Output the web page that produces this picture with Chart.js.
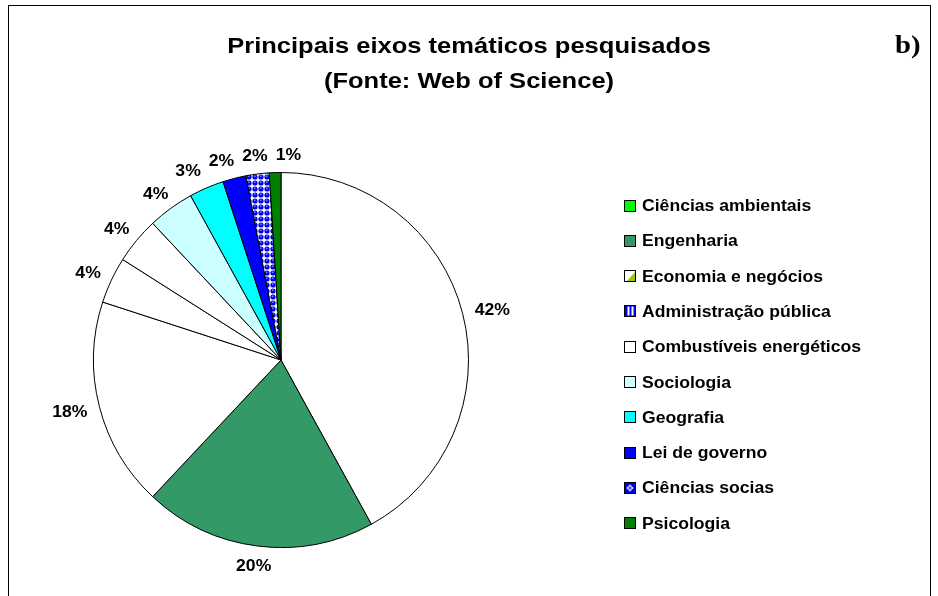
<!DOCTYPE html>
<html>
<head>
<meta charset="utf-8">
<script src="https://cdn.jsdelivr.net/npm/chart.js@4.4.0/dist/chart.umd.min.js"></script>
<style>
  html, body { margin: 0; padding: 0; background: #fff; }
  #wrap { width: 938px; height: 596px; }
</style>
</head>
<body>
<div id="wrap"><canvas id="temasChart" width="938" height="596"></canvas></div>
<script>
const categories = [
  "Ciências ambientais", "Engenharia", "Economia e negócios", "Administração pública",
  "Combustíveis energéticos", "Sociologia", "Geografia", "Lei de governo",
  "Ciências socias", "Psicologia"
];
const shares = [42, 20, 18, 4, 4, 4, 3, 2, 2, 1];
const titleLines = ["Principais eixos temáticos pesquisados", "(Fonte: Web of Science)"];
const panelTag = "b)";

// small canvas patterns, like the excel fills
function makePattern(size, paint) {
  const c = document.createElement("canvas");
  c.width = size; c.height = size;
  paint(c.getContext("2d"), size);
  return document.getElementById("temasChart").getContext("2d").createPattern(c, "repeat");
}
const bubbles = makePattern(6, (g, s) => {
  g.fillStyle = "#fff"; g.fillRect(0, 0, s, s);
  g.fillStyle = "#0000ff";
  g.beginPath(); g.arc(3, 3, 2.6, 0, Math.PI * 2); g.fill();
  g.fillStyle = "#8080ff"; g.fillRect(2, 1.5, 1.5, 1.5);
});

const sliceColors = ["#ffffff", "#339966", "#ffffff", "#ffffff", "#ffffff",
  "#ccffff", "#00ffff", "#0000ff", bubbles, "#008000"];

// legend swatches: plain colour or a little painter
const legendSwatch = [
  "#00ff00", "#339966",
  (ctx, x, y, s) => {
    ctx.fillStyle = "#fff"; ctx.fillRect(x, y, s, s);
    ctx.fillStyle = "#99cc00";
    ctx.beginPath(); ctx.moveTo(x + 2, y + s); ctx.lineTo(x + s, y + 1); ctx.lineTo(x + s, y + s); ctx.fill();
  },
  (ctx, x, y, s) => {
    ctx.fillStyle = "#0000ff"; ctx.fillRect(x, y, s, s);
    ctx.fillStyle = "#fff"; ctx.fillRect(x + 3, y + 1, 2, s - 2); ctx.fillRect(x + 7, y + 1, 2, s - 2);
  },
  "#ffffff", "#ccffff", "#00ffff", "#0000ff",
  (ctx, x, y, s) => {
    ctx.fillStyle = "#0000ff"; ctx.fillRect(x, y, s, s);
    ctx.fillStyle = "#fff";
    ctx.beginPath(); ctx.moveTo(x + s / 2, y + 2); ctx.lineTo(x + s - 2, y + s / 2);
    ctx.lineTo(x + s / 2, y + s - 2); ctx.lineTo(x + 2, y + s / 2); ctx.fill();
    ctx.fillStyle = "#4040ff"; ctx.fillRect(x + s / 2 - 1.5, y + s / 2 - 1.5, 3, 3);
  },
  "#008000"
];

const FONT = "'Liberation Sans', Arial, sans-serif";
const LABEL_FONT = "bold 16px " + FONT;
const STRETCH = 1.1;

function wideText(ctx, text, x, y, font, align, stretch) {
  ctx.save();
  ctx.font = font;
  ctx.translate(x, y);
  ctx.scale(stretch, 1);
  ctx.textAlign = align;
  ctx.textBaseline = "alphabetic";
  ctx.fillStyle = "#000";
  ctx.fillText(text, 0, 0);
  ctx.restore();
}

const excelDecor = {
  id: "excelDecor",
  beforeDraw(chart) {
    const ctx = chart.ctx;
    ctx.save();
    ctx.fillStyle = "#fff";
    ctx.fillRect(0, 0, chart.width, chart.height);
    ctx.strokeStyle = "#000";
    ctx.lineWidth = 1;
    ctx.strokeRect(8.5, 5.5, 922, 700);
    ctx.restore();
  },
  afterDraw(chart) {
    const ctx = chart.ctx;
    // title
    wideText(ctx, titleLines[0], 469, 53, "bold 22px " + FONT, "center", 1.16);
    wideText(ctx, titleLines[1], 469, 88, "bold 22px " + FONT, "center", 1.16);
    wideText(ctx, panelTag, 895, 53, "bold 25px 'Liberation Serif', 'Times New Roman', serif", "left", 1.15);

    // percentage labels outside the slices
    const meta = chart.getDatasetMeta(0);
    const total = shares.reduce((a, b) => a + b, 0);
    ctx.save();
    ctx.font = LABEL_FONT;
    const labels = meta.data.map((arc, i) => {
      const p = arc.getProps(["x", "y", "startAngle", "endAngle", "outerRadius"], true);
      const mid = (p.startAngle + p.endAngle) / 2;
      const txt = Math.round(shares[i] / total * 100) + "%";
      const w = ctx.measureText(txt).width * STRETCH;
      const h = 12;
      const r = p.outerRadius + 13;
      return {
        txt, w,
        x: p.x + Math.cos(mid) * (r + w / 2),
        y: p.y + Math.sin(mid) * (r + h / 2) + 6
      };
    });
    ctx.restore();
    // push crowded labels apart sideways
    for (let it = 0; it < 60; it++) {
      for (let a = 0; a < labels.length; a++) {
        for (let b = a + 1; b < labels.length; b++) {
          const A = labels[a], B = labels[b];
          const need = (A.w + B.w) / 2 + 8;
          const dx = B.x - A.x;
          if (Math.abs(A.y - B.y) < 18 && Math.abs(dx) < need) {
            const push = (need - Math.abs(dx)) / 2 * (dx >= 0 ? 1 : -1);
            A.x -= push; B.x += push;
          }
        }
      }
    }
    labels.forEach(l => wideText(ctx, l.txt, l.x, l.y, LABEL_FONT, "center", STRETCH));

    // legend
    const box = 11, bx = 624.5, top = 205, step = 35.3;
    categories.forEach((name, i) => {
      const cy = top + i * step;
      const by = Math.round(cy - box / 2) + 0.5;
      ctx.save();
      const sw = legendSwatch[i];
      if (typeof sw === "function") sw(ctx, bx, by, box);
      else { ctx.fillStyle = sw; ctx.fillRect(bx, by, box, box); }
      ctx.strokeStyle = "#000"; ctx.lineWidth = 1;
      ctx.strokeRect(bx, by, box, box);
      ctx.restore();
      wideText(ctx, name, 642, cy + 6, LABEL_FONT, "left", STRETCH);
    });
  }
};

new Chart(document.getElementById("temasChart"), {
  type: "pie",
  data: {
    labels: categories,
    datasets: [{
      data: shares,
      backgroundColor: sliceColors,
      borderColor: "#000",
      borderWidth: 1
    }]
  },
  options: {
    responsive: false,
    animation: false,
    events: [],
    layout: { padding: { left: 93, right: 469, top: 172, bottom: 48 } },
    plugins: {
      legend: { display: false },
      tooltip: { enabled: false },
      title: { display: false }
    }
  },
  plugins: [excelDecor]
});
</script>
</body>
</html>
